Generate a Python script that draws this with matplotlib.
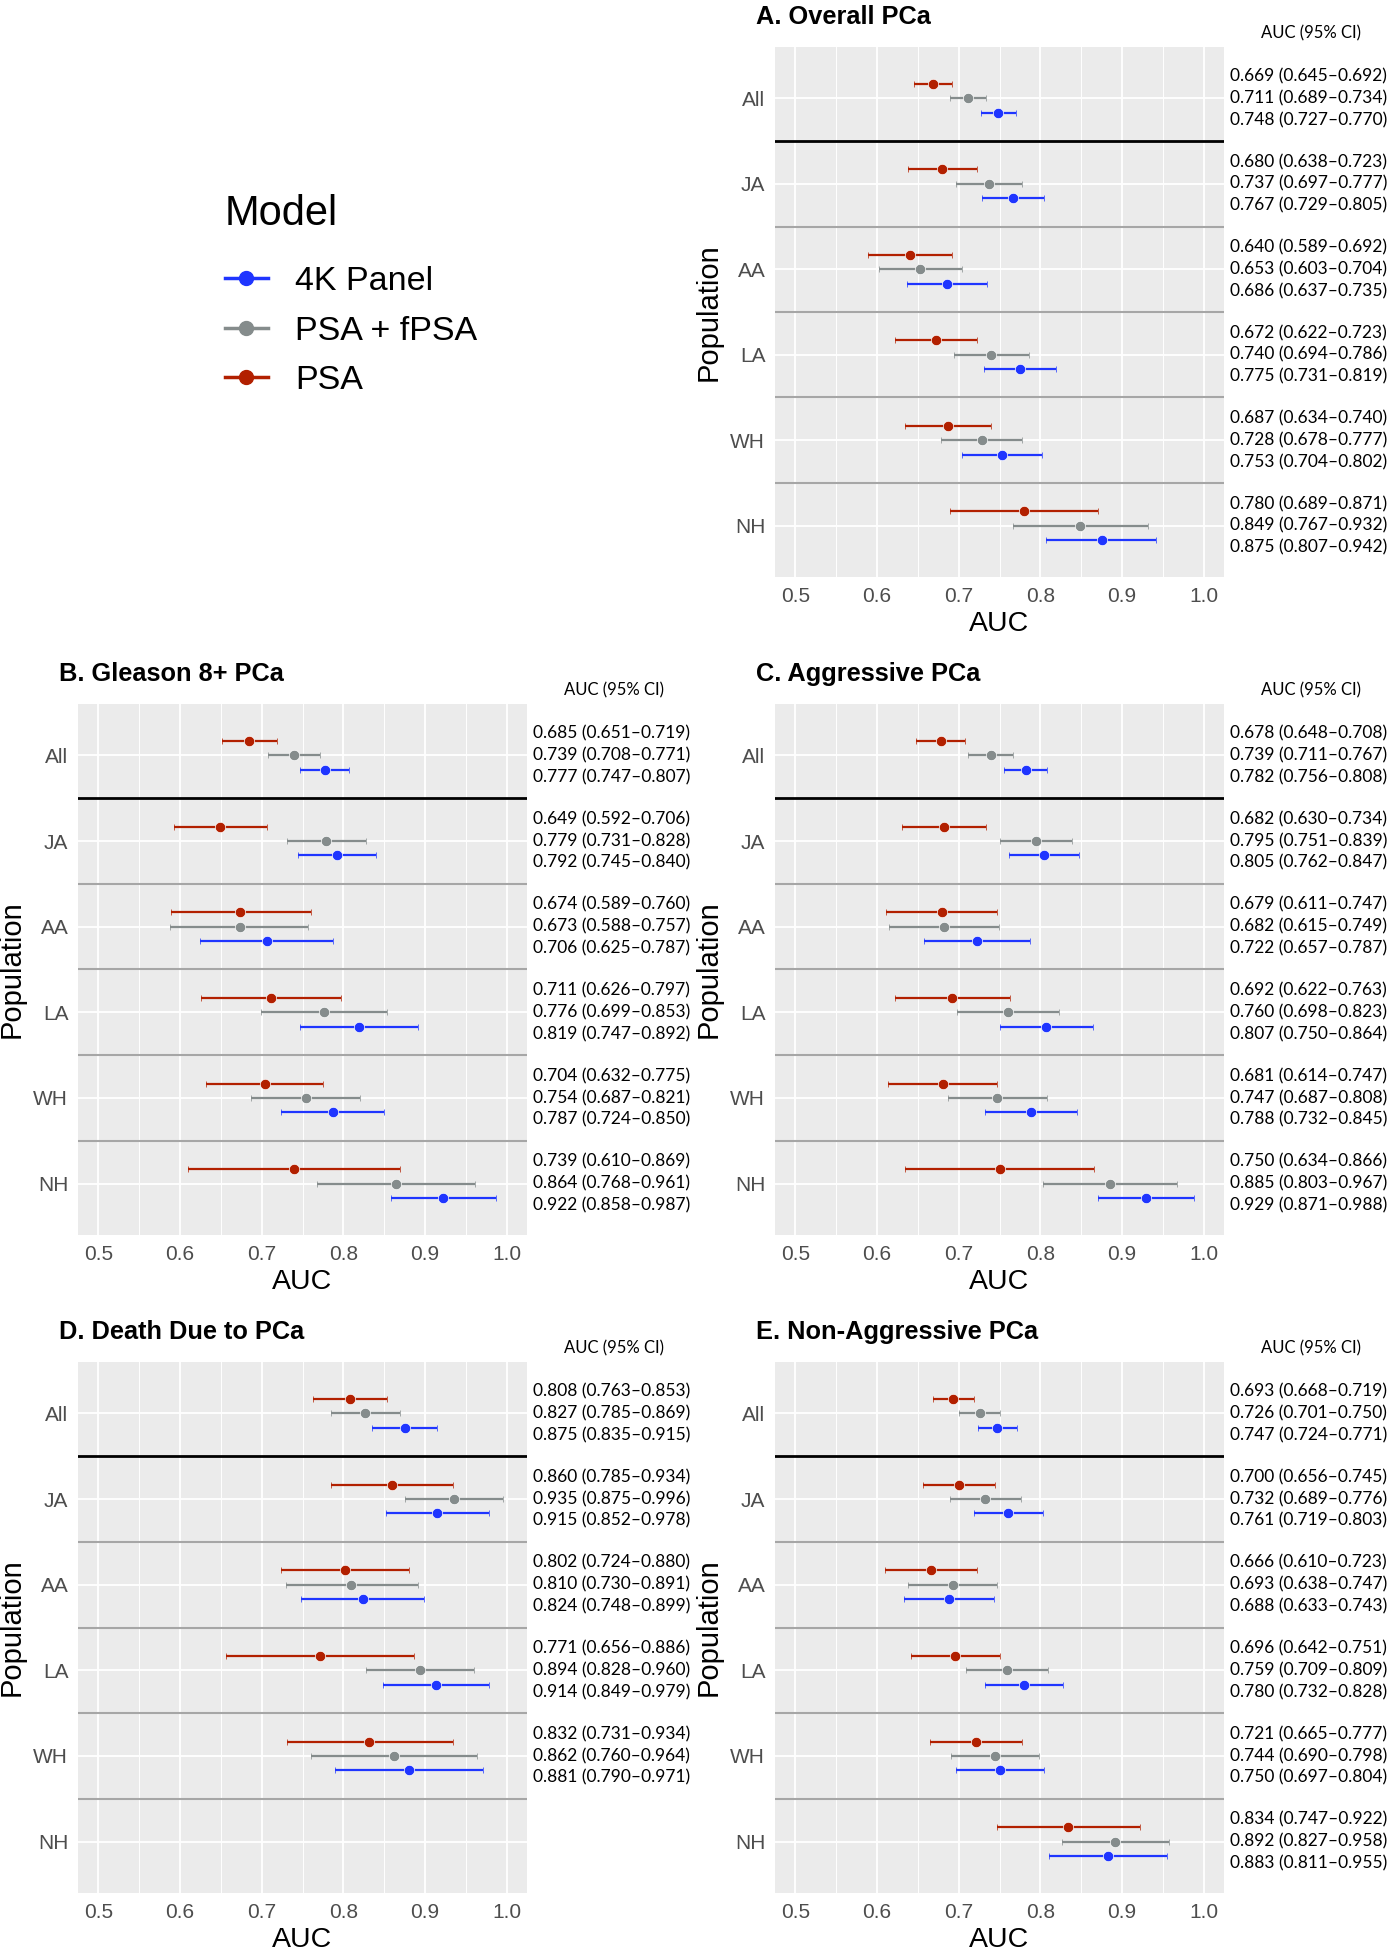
import matplotlib
matplotlib.use("Agg")
from matplotlib import pyplot as plt
from matplotlib import font_manager, transforms
from matplotlib.lines import Line2D
import numpy as np

POPULATIONS = ["All", "JA", "AA", "LA", "WH", "NH"]
MODELS = ["PSA", "PSA + fPSA", "4K Panel"]
MODEL_COLORS = {"PSA": "#B22000", "PSA + fPSA": "#858C8C", "4K Panel": "#1F35FF"}

# (AUC, lower, upper) per population, order as POPULATIONS
overall_psa = [(0.669, 0.645, 0.692), (0.680, 0.638, 0.723), (0.640, 0.589, 0.692),
               (0.672, 0.622, 0.723), (0.687, 0.634, 0.740), (0.780, 0.689, 0.871)]
overall_fpsa = [(0.711, 0.689, 0.734), (0.737, 0.697, 0.777), (0.653, 0.603, 0.704),
                (0.740, 0.694, 0.786), (0.728, 0.678, 0.777), (0.849, 0.767, 0.932)]
overall_4k = [(0.748, 0.727, 0.770), (0.767, 0.729, 0.805), (0.686, 0.637, 0.735),
              (0.775, 0.731, 0.819), (0.753, 0.704, 0.802), (0.875, 0.807, 0.942)]

gleason_psa = [(0.685, 0.651, 0.719), (0.649, 0.592, 0.706), (0.674, 0.589, 0.760),
               (0.711, 0.626, 0.797), (0.704, 0.632, 0.775), (0.739, 0.610, 0.869)]
gleason_fpsa = [(0.739, 0.708, 0.771), (0.779, 0.731, 0.828), (0.673, 0.588, 0.757),
                (0.776, 0.699, 0.853), (0.754, 0.687, 0.821), (0.864, 0.768, 0.961)]
gleason_4k = [(0.777, 0.747, 0.807), (0.792, 0.745, 0.840), (0.706, 0.625, 0.787),
              (0.819, 0.747, 0.892), (0.787, 0.724, 0.850), (0.922, 0.858, 0.987)]

aggr_psa = [(0.678, 0.648, 0.708), (0.682, 0.630, 0.734), (0.679, 0.611, 0.747),
            (0.692, 0.622, 0.763), (0.681, 0.614, 0.747), (0.750, 0.634, 0.866)]
aggr_fpsa = [(0.739, 0.711, 0.767), (0.795, 0.751, 0.839), (0.682, 0.615, 0.749),
             (0.760, 0.698, 0.823), (0.747, 0.687, 0.808), (0.885, 0.803, 0.967)]
aggr_4k = [(0.782, 0.756, 0.808), (0.805, 0.762, 0.847), (0.722, 0.657, 0.787),
           (0.807, 0.750, 0.864), (0.788, 0.732, 0.845), (0.929, 0.871, 0.988)]

death_psa = [(0.808, 0.763, 0.853), (0.860, 0.785, 0.934), (0.802, 0.724, 0.880),
             (0.771, 0.656, 0.886), (0.832, 0.731, 0.934), None]
death_fpsa = [(0.827, 0.785, 0.869), (0.935, 0.875, 0.996), (0.810, 0.730, 0.891),
              (0.894, 0.828, 0.960), (0.862, 0.760, 0.964), None]
death_4k = [(0.875, 0.835, 0.915), (0.915, 0.852, 0.978), (0.824, 0.748, 0.899),
            (0.914, 0.849, 0.979), (0.881, 0.790, 0.971), None]

nonaggr_psa = [(0.693, 0.668, 0.719), (0.700, 0.656, 0.745), (0.666, 0.610, 0.723),
               (0.696, 0.642, 0.751), (0.721, 0.665, 0.777), (0.834, 0.747, 0.922)]
nonaggr_fpsa = [(0.726, 0.701, 0.750), (0.732, 0.689, 0.776), (0.693, 0.638, 0.747),
                (0.759, 0.709, 0.809), (0.744, 0.690, 0.798), (0.892, 0.827, 0.958)]
nonaggr_4k = [(0.747, 0.724, 0.771), (0.761, 0.719, 0.803), (0.688, 0.633, 0.743),
              (0.780, 0.732, 0.828), (0.750, 0.697, 0.804), (0.883, 0.811, 0.955)]

W, H, DPI = 1392, 1950, 100

plt.rcParams["font.family"] = ["Liberation Sans", "DejaVu Sans"]
_names = {f.name for f in font_manager.fontManager.ttflist}
CI_FONT = "Lato" if "Lato" in _names else "DejaVu Sans"


def px_axes(fig, left, top, right, bottom):
    return fig.add_axes([left / W, 1 - bottom / H, (right - left) / W,
                         (bottom - top) / H])


def draw_panel(fig, box, title, series):
    left, top, right, bottom = box
    wpx, hpx = right - left, bottom - top
    ax = px_axes(fig, *box)
    ax.set_facecolor("#EBEBEB")
    ax.set_xlim(0.475, 1.025)
    ax.set_ylim(5.6, -0.6)
    ax.set_xticks(np.arange(0.5, 1.001, 0.1))
    ax.set_xticklabels(["0.5", "0.6", "0.7", "0.8", "0.9", "1.0"])
    ax.set_xticks(np.arange(0.55, 1.0, 0.1), minor=True)
    ax.set_yticks(range(len(POPULATIONS)))
    ax.set_yticklabels(POPULATIONS)
    ax.tick_params(which="both", length=0, labelsize=15, labelcolor="#4D4D4D")
    ax.tick_params(axis="x", pad=7)
    ax.tick_params(axis="y", pad=7)
    ax.grid(which="major", color="white", lw=1.3)
    ax.grid(which="minor", axis="x", color="white", lw=0.7)
    ax.set_axisbelow(True)
    for s in ax.spines.values():
        s.set_visible(False)

    # separators between populations
    ax.axhline(0.5, color="black", lw=2.0, zorder=1.5)
    for yv in np.arange(1.5, 5.0, 1.0):
        ax.axhline(yv, color="#A6A6A6", lw=1.5, zorder=1.5)

    trans = transforms.blended_transform_factory(ax.transAxes, ax.transData)
    text_x = 1 + 6 / wpx
    for i, (name, vals) in enumerate(zip(MODELS, series)):
        off = (i - 1) * 0.167
        col = MODEL_COLORS[name]
        for j, v in enumerate(vals):
            if v is None:
                continue
            auc, lo, hi = v
            ax.errorbar(auc, j + off, xerr=[[auc - lo], [hi - auc]], fmt="o",
                        color=col, ms=7.5, mec="white", mew=0.5, elinewidth=1.6,
                        capsize=2, capthick=1.6, zorder=3)
            ax.text(text_x, j + (i - 1) * 0.255,
                    f"{auc:.3f} ({lo:.3f}\u2013{hi:.3f})", transform=trans,
                    ha="left", va="center", fontsize=12.5, family=CI_FONT)

    ax.text(text_x + 81 / wpx, 1 + 14 / hpx, "AUC (95% CI)", transform=ax.transAxes,
            ha="center", va="center", fontsize=12, family=CI_FONT)
    ax.text(-19 / wpx, 1 + 30 / hpx, title, transform=ax.transAxes, ha="left",
            va="center", fontsize=18.3, fontweight="bold")

    ax.set_xlabel("AUC", fontsize=20.5)
    ax.xaxis.set_label_coords(0.5, -47 / hpx)
    ax.xaxis.label.set_va("center")
    ax.set_ylabel("Population", fontsize=21)
    ax.yaxis.set_label_coords(-66 / wpx, 0.5)
    ax.yaxis.label.set_va("center")
    return ax


fig = plt.figure(figsize=(W / DPI, H / DPI), dpi=DPI)

draw_panel(fig, (775, 47, 1224, 577), "A. Overall PCa",
           [overall_psa, overall_fpsa, overall_4k])
draw_panel(fig, (78, 704, 527, 1235), "B. Gleason 8+ PCa",
           [gleason_psa, gleason_fpsa, gleason_4k])
draw_panel(fig, (775, 704, 1224, 1235), "C. Aggressive PCa",
           [aggr_psa, aggr_fpsa, aggr_4k])
draw_panel(fig, (78, 1362, 527, 1893), "D. Death Due to PCa",
           [death_psa, death_fpsa, death_4k])
draw_panel(fig, (775, 1362, 1224, 1893), "E. Non-Aggressive PCa",
           [nonaggr_psa, nonaggr_fpsa, nonaggr_4k])

handles = [Line2D([], [], color=MODEL_COLORS[m], lw=2.5, marker="o", ms=10)
           for m in reversed(MODELS)]
leg = fig.legend(handles, list(reversed(MODELS)), loc="upper left",
                 bbox_to_anchor=(225 / W, 1 - 194 / H), frameon=False,
                 title="Model", fontsize=24.5, title_fontsize=30, alignment="left",
                 handlelength=1.25, handletextpad=0.8, labelspacing=0.55,
                 borderpad=0, borderaxespad=0)
leg._legend_box.sep = 23

fig.savefig("out.png", dpi=DPI)
